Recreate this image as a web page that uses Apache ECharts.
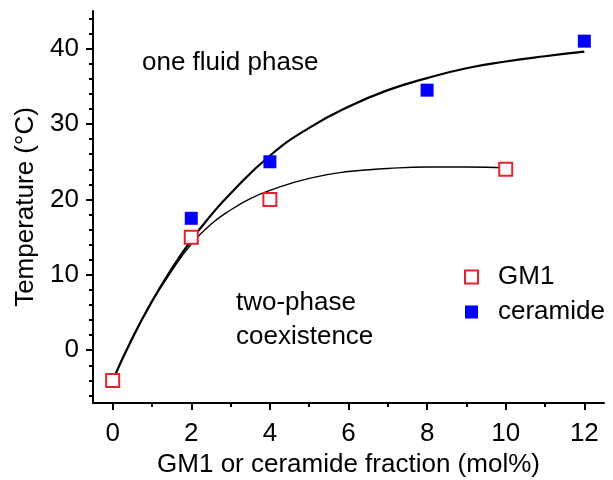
<!DOCTYPE html>
<html>
<head>
<meta charset="utf-8">
<title>Phase diagram</title>
<script src="https://cdn.jsdelivr.net/npm/echarts@6.0.0/dist/echarts.min.js"></script>
<style>
    html, body { margin: 0; padding: 0; background: #fff; }
    #chart { width: 613px; height: 480px; }
</style>
</head>
<body>
<div id="chart"></div>
<script>
// 测量点
var gm1X = [0, 2, 4, 10];
var gm1Y = [-4, 15, 20, 24];
var ceramideX = [2, 4, 8, 12];
var ceramideY = [17.5, 25, 34.5, 41];

// 拟合曲线
var upperFitX = [0, 0.5, 1, 1.5, 2, 2.5, 3, 4, 5, 6, 7, 8, 9, 10, 11, 12];
var upperFitY = [-4, 1.6, 6.5, 10.8, 14.6, 17.9, 20.8, 25.8, 29.5, 32.3, 34.5, 36.1, 37.4, 38.3, 39.0, 39.6];
var lowerFitX = [0, 0.5, 1, 1.5, 2, 2.5, 3, 3.5, 4, 5, 6, 7, 8, 9, 10];
var lowerFitY = [-4, 1.6, 6.4, 10.5, 14.1, 16.7, 18.6, 20.1, 21.2, 22.8, 23.7, 24.1, 24.3, 24.3, 24.2];

// 刻度
var xMajorTicks = [0, 2, 4, 6, 8, 10, 12];
var xMinorTicks = [1, 3, 5, 7, 9, 11];
var yMajorTicks = [0, 10, 20, 30, 40];
var yMinorTicks = [-6, -4, -2, 2, 4, 6, 8, 12, 14, 16, 18, 22, 24, 26, 28, 32, 34, 36, 38, 42, 44];

var FONT = 'Liberation Sans, Arial, sans-serif';
var FONT_SIZE = 26;
var RED = '#e2252b';
var BLUE = '#0000ff';

function pairs(xs, ys) {
    var out = [];
    for (var i = 0; i < xs.length; i++) {
        out.push([xs[i], ys[i]]);
    }
    return out;
}

var chart = echarts.init(document.getElementById('chart'));

var lineStyleAxis = { color: '#000', width: 2 };

chart.setOption({
    animation: false,
    textStyle: { fontFamily: FONT },
    // 固定绘图区，不让轴名称把网格挤小
    grid: { left: 93, right: 9, top: 11, bottom: 77, containLabel: false, outerBoundsMode: 'none' },
    legend: {
        orient: 'vertical',
        left: 459,
        top: 259,
        itemWidth: 13,
        itemHeight: 13,
        itemGap: 9,
        textStyle: { fontFamily: FONT, fontSize: FONT_SIZE, color: '#000', padding: [0, 0, 0, 15] },
        data: [
            { name: 'GM1', icon: 'rect', itemStyle: { color: '#fff', borderColor: RED, borderWidth: 2 } },
            { name: 'ceramide', icon: 'rect', itemStyle: { color: BLUE, borderWidth: 0 } }
        ]
    },
    xAxis: [{
        type: 'value',
        min: -0.5,
        max: 12.5,
        name: 'GM1 or ceramide fraction (mol%)',
        nameLocation: 'middle',
        nameGap: 49,
        nameTextStyle: { fontFamily: FONT, fontSize: FONT_SIZE, color: '#000' },
        splitLine: { show: false },
        axisLine: { show: true, onZero: false, lineStyle: lineStyleAxis },
        axisTick: { show: true, length: 7, lineStyle: lineStyleAxis, customValues: xMajorTicks },
        axisLabel: { fontSize: FONT_SIZE, color: '#000', margin: 18, customValues: xMajorTicks }
    }, {
        // 次刻度
        type: 'value',
        min: -0.5,
        max: 12.5,
        position: 'bottom',
        splitLine: { show: false },
        axisLine: { show: false, onZero: false },
        axisTick: { show: true, length: 4, lineStyle: lineStyleAxis, customValues: xMinorTicks },
        axisLabel: { show: false }
    }],
    yAxis: [{
        type: 'value',
        min: -7,
        max: 45,
        name: 'Temperature (°C)',
        nameLocation: 'middle',
        nameGap: 52,
        nameTextStyle: { fontFamily: FONT, fontSize: FONT_SIZE, color: '#000' },
        splitLine: { show: false },
        axisLine: { show: true, onZero: false, lineStyle: lineStyleAxis },
        axisTick: { show: true, length: 7, lineStyle: lineStyleAxis, customValues: yMajorTicks },
        axisLabel: { fontSize: FONT_SIZE, color: '#000', margin: 14, customValues: yMajorTicks }
    }, {
        // 次刻度
        type: 'value',
        min: -7,
        max: 45,
        position: 'left',
        splitLine: { show: false },
        axisLine: { show: false, onZero: false },
        axisTick: { show: true, length: 4, lineStyle: lineStyleAxis, customValues: yMinorTicks },
        axisLabel: { show: false }
    }],
    graphic: [
        { type: 'text', left: 142, top: 50, style: { text: 'one fluid phase', font: FONT_SIZE + 'px ' + FONT, fill: '#000' } },
        { type: 'text', left: 236, top: 290, style: { text: 'two-phase', font: FONT_SIZE + 'px ' + FONT, fill: '#000' } },
        { type: 'text', left: 236, top: 324, style: { text: 'coexistence', font: FONT_SIZE + 'px ' + FONT, fill: '#000' } }
    ],
    series: [{
        name: 'ceramide fit',
        type: 'line',
        smooth: true,
        showSymbol: false,
        silent: true,
        z: 2,
        lineStyle: { color: '#000', width: 2.2 },
        data: pairs(upperFitX, upperFitY)
    }, {
        name: 'GM1 fit',
        type: 'line',
        smooth: true,
        showSymbol: false,
        silent: true,
        z: 2,
        lineStyle: { color: '#000', width: 1.4 },
        data: pairs(lowerFitX, lowerFitY)
    }, {
        name: 'GM1',
        type: 'scatter',
        symbol: 'rect',
        symbolSize: 13,
        z: 5,
        itemStyle: { color: '#fff', borderColor: RED, borderWidth: 2, opacity: 1 },
        data: pairs(gm1X, gm1Y)
    }, {
        name: 'ceramide',
        type: 'scatter',
        symbol: 'rect',
        symbolSize: 13,
        z: 5,
        itemStyle: { color: BLUE, opacity: 1 },
        data: pairs(ceramideX, ceramideY)
    }]
});
</script>
</body>
</html>
